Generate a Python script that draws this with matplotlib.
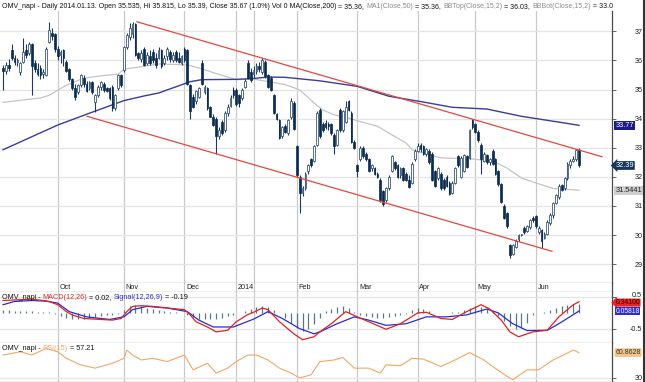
import numpy as np
import matplotlib
matplotlib.use("Agg")
import matplotlib.pyplot as plt
import matplotlib.transforms as mtrans

plt.rcParams['font.family'] = ['Liberation Sans', 'DejaVu Sans']

# daily OHLC, trading-day index 0..200 (early Sep 2013 .. mid Jun 2014)
opens = [35.75, 35.65, 35.85, 36.35, 36.10, 35.95, 35.60, 35.95, 36.35, 36.25,
         36.55, 35.90, 35.70, 35.75, 35.55, 35.50, 36.65, 36.95, 36.90, 36.40,
         36.20, 36.35, 35.95, 35.70, 35.35, 35.05, 34.90, 35.15, 35.40, 35.20,
         35.05, 35.25, 34.58, 34.80, 35.10, 35.20, 35.05, 35.05, 35.10, 34.35,
         35.04, 35.50, 35.67, 36.47, 36.80, 36.90, 37.27, 36.25, 36.05, 36.40,
         35.90, 36.15, 36.30, 36.10, 36.10, 36.35, 35.90, 36.15, 36.30, 36.00,
         36.30, 36.10, 35.90, 36.40, 36.36, 35.16, 34.75, 34.60, 34.75, 35.90,
         34.90, 35.04, 34.41, 34.07, 34.00, 33.40, 33.90, 33.60, 34.20, 34.45,
         35.00, 35.00, 34.80, 34.70, 35.10, 35.90, 35.60, 35.535, 35.65, 35.80,
         35.60, 35.95, 35.50, 35.40, 34.80, 34.15, 33.95, 33.40, 33.75, 33.50,
         34.05, 34.55, 33.05, 32.00, 31.45, 31.60, 32.20, 32.60, 32.55, 33.10,
         34.30, 33.80, 33.85, 33.80, 33.80, 33.45, 33.10, 34.30, 33.60, 33.90,
         34.60, 34.20, 33.20, 32.40, 32.60, 33.00, 32.80, 32.60, 32.30, 32.30,
         32.10, 31.90, 31.50, 31.20, 31.60, 32.20, 32.50, 32.40, 32.05, 32.30,
         32.10, 31.90, 31.80, 32.60, 32.90, 33.10, 33.05, 32.80, 32.90, 32.80,
         32.20, 31.95, 32.10, 31.90, 32.00, 31.80, 31.45, 31.80, 32.70, 32.00,
         32.20, 32.70, 32.65, 33.95, 33.80, 33.55, 33.10, 32.55, 32.75, 32.50,
         32.90, 32.60, 32.20, 31.75, 31.00, 30.75, 29.65, 29.35, 29.60, 29.85,
         30.00, 30.23, 30.15, 30.27, 30.60, 30.65, 30.10, 30.17, 29.90, 30.05,
         30.40, 30.70, 31.10, 31.30, 31.72, 31.60, 31.95, 32.40, 32.55, 32.60,
         32.92]
highs = [35.85, 35.95, 36.05, 36.55, 36.20, 36.10, 35.95, 36.76, 36.55, 36.65,
         36.60, 36.00, 35.90, 35.85, 35.70, 36.45, 37.33, 37.10, 36.95, 36.50,
         36.35, 36.40, 36.00, 35.75, 35.40, 35.20, 35.20, 35.55, 35.50, 35.30,
         35.30, 35.30, 34.85, 35.15, 35.30, 35.25, 35.10, 35.10, 35.15, 34.85,
         35.55, 35.55, 36.50, 36.95, 37.30, 37.33, 37.30, 36.30, 36.35, 36.45,
         36.30, 36.35, 36.40, 36.25, 36.45, 36.40, 36.20, 36.45, 36.35, 36.30,
         36.35, 36.30, 36.20, 36.45, 36.40, 35.20, 34.85, 35.00, 35.10, 36.00,
         35.15, 35.10, 34.45, 34.15, 34.05, 33.70, 33.95, 34.25, 34.50, 34.80,
         35.10, 35.05, 34.85, 35.05, 35.35, 36.00, 35.75, 35.815, 35.90, 35.95,
         36.07, 36.00, 35.55, 35.45, 34.85, 34.20, 34.00, 33.75, 33.80, 34.00,
         34.70, 34.60, 33.10, 32.05, 31.70, 32.15, 32.45, 32.65, 33.10, 34.25,
         34.35, 33.90, 33.95, 33.90, 33.85, 33.50, 33.65, 34.35, 34.30, 34.60,
         34.65, 34.25, 33.25, 32.45, 33.05, 33.05, 32.85, 32.65, 32.45, 32.35,
         32.15, 31.95, 31.55, 31.65, 32.05, 32.75, 32.55, 32.45, 32.35, 32.35,
         32.15, 32.05, 32.50, 32.95, 33.15, 33.15, 33.10, 33.00, 32.95, 32.85,
         32.25, 32.35, 32.15, 31.95, 32.05, 31.85, 31.85, 32.35, 32.75, 32.70,
         32.80, 32.75, 33.65, 34.00, 33.85, 33.60, 33.15, 32.85, 32.80, 32.65,
         32.95, 32.65, 32.25, 31.80, 31.05, 30.80, 29.70, 29.70, 29.85, 30.05,
         30.05, 30.30, 30.35, 30.55, 30.65, 30.70, 30.30, 30.20, 30.10, 30.50,
         30.75, 31.15, 31.40, 31.75, 31.75, 32.00, 32.50, 32.60, 32.70, 32.95,
         33.00]
lows = [35.00, 35.55, 35.65, 36.00, 35.85, 35.80, 35.50, 35.90, 36.10, 36.20,
        34.80, 35.60, 35.45, 35.35, 35.40, 35.45, 36.60, 36.70, 36.30, 36.00,
        35.90, 35.80, 35.60, 35.30, 35.00, 34.65, 34.85, 35.10, 35.10, 34.90,
        35.00, 34.85, 34.24, 34.75, 35.00, 34.90, 34.90, 34.65, 34.25, 34.30,
        35.00, 35.10, 35.60, 36.40, 36.70, 36.76, 36.15, 36.00, 35.95, 35.80,
        35.85, 35.85, 35.90, 35.75, 36.05, 35.75, 35.85, 36.00, 35.95, 35.95,
        35.95, 35.90, 35.85, 35.95, 35.16, 34.00, 34.35, 34.50, 34.70, 35.15,
        34.85, 34.30, 34.05, 33.75, 32.80, 33.30, 33.45, 33.55, 34.10, 34.40,
        34.70, 34.45, 34.40, 34.65, 35.05, 35.35, 35.25, 35.39, 35.55, 35.60,
        35.55, 35.40, 35.05, 34.95, 34.15, 33.95, 33.30, 33.35, 33.50, 33.45,
        34.00, 33.60, 32.00, 30.75, 31.35, 31.55, 32.10, 32.35, 32.50, 33.05,
        33.35, 33.55, 33.65, 33.60, 33.45, 32.80, 33.05, 33.55, 33.55, 33.85,
        34.25, 33.15, 32.95, 32.00, 32.55, 32.65, 32.55, 32.15, 32.20, 32.05,
        31.95, 31.15, 31.00, 31.15, 31.55, 32.15, 32.25, 31.95, 31.95, 31.85,
        31.85, 31.60, 31.75, 32.55, 32.85, 32.85, 32.75, 32.70, 32.45, 31.85,
        31.65, 31.90, 31.55, 31.55, 31.65, 31.37, 31.40, 31.75, 32.35, 31.95,
        32.15, 32.30, 32.60, 33.65, 33.50, 33.20, 32.10, 32.50, 32.45, 32.40,
        32.40, 32.05, 31.70, 31.10, 30.55, 30.25, 29.20, 29.30, 29.55, 29.80,
        29.95, 30.05, 30.10, 30.20, 30.45, 30.25, 30.05, 29.55, 29.85, 30.00,
        30.35, 30.60, 31.05, 31.25, 31.50, 31.55, 31.90, 32.30, 32.50, 32.55,
        32.35]
closes = [35.65, 35.85, 35.75, 36.10, 35.95, 36.00, 35.90, 36.30, 36.20, 36.55,
          35.80, 35.70, 35.55, 35.50, 35.60, 36.40, 37.05, 36.85, 36.40, 36.15,
          36.30, 36.10, 35.65, 35.35, 35.05, 34.75, 35.15, 35.50, 35.20, 34.95,
          35.25, 34.90, 34.80, 35.10, 35.25, 35.00, 34.95, 34.70, 34.35, 34.80,
          35.50, 35.15, 36.47, 36.87, 37.10, 37.27, 36.20, 36.10, 36.25, 35.85,
          36.20, 35.90, 36.00, 35.85, 36.35, 35.80, 36.10, 36.40, 36.05, 36.20,
          36.00, 35.95, 36.15, 36.00, 35.20, 34.25, 34.41, 34.95, 35.05, 35.20,
          35.10, 34.35, 34.07, 33.78, 33.40, 33.60, 33.50, 34.20, 34.40, 34.70,
          34.80, 34.50, 34.55, 35.00, 35.30, 35.40, 35.32, 35.67, 35.80, 35.70,
          36.00, 35.45, 35.10, 35.00, 34.20, 34.00, 33.35, 33.70, 33.55, 33.95,
          34.60, 33.65, 32.05, 31.45, 31.60, 32.10, 32.40, 32.40, 33.05, 34.20,
          33.40, 33.60, 33.70, 33.75, 33.50, 33.05, 33.60, 33.60, 34.25, 34.40,
          34.30, 33.20, 33.00, 32.20, 33.00, 32.70, 32.60, 32.20, 32.40, 32.10,
          32.00, 31.20, 31.05, 31.60, 32.00, 32.70, 32.30, 32.00, 32.30, 31.90,
          31.90, 31.65, 32.45, 32.90, 33.05, 32.95, 32.80, 32.95, 32.50, 31.90,
          31.70, 32.30, 31.60, 31.62, 31.70, 31.40, 31.80, 32.30, 32.40, 32.64,
          32.75, 32.35, 33.60, 33.70, 33.55, 33.25, 32.60, 32.80, 32.50, 32.60,
          32.45, 32.10, 31.75, 31.15, 30.60, 30.30, 29.30, 29.65, 29.80, 30.00,
          30.00, 30.10, 30.30, 30.50, 30.50, 30.30, 30.25, 29.80, 30.05, 30.45,
          30.70, 31.10, 31.37, 31.70, 31.55, 31.95, 32.45, 32.55, 32.60, 32.92,
          32.39]

month_idx = [19, 42, 63, 81, 102, 123, 144, 164, 185]
month_lbl = ['Oct', 'Nov', 'Dec', '2014', 'Feb', 'Mar', 'Apr', 'May', 'Jun']
cursor_idx = 87

# moving averages (index, value)
ma200_x = [0, 19, 29, 42, 49, 54, 65, 69, 81, 87, 92, 98, 110, 123, 134, 146, 156, 168, 180, 195, 200]
ma200_y = [32.93, 33.78, 34.15, 34.62, 34.78, 34.88, 35.27, 35.34, 35.35, 35.38, 35.43, 35.42,
           35.30, 35.11, 34.77, 34.57, 34.39, 34.33, 34.08, 33.85, 33.77]
ma50_x = [0, 13, 16, 22, 28, 34, 40, 42, 49, 54, 64, 68, 75, 81, 87, 98, 103, 108, 111, 115,
          120, 124, 130, 134, 140, 142, 152, 162, 170, 175, 180, 185, 191, 200]
ma50_y = [34.56, 34.71, 34.80, 35.15, 35.39, 35.47, 35.53, 35.70, 35.80, 35.88, 35.85, 35.74,
          35.52, 35.34, 35.36, 35.17, 34.99, 34.54, 34.30, 34.13, 34.02, 33.90, 33.74, 33.50,
          33.16, 32.93, 32.65, 32.62, 32.54, 32.30, 31.96, 31.79, 31.60, 31.54]

# channel lines (index, price)
chan_hi_x = [46.5, 208.0]
chan_hi_y = [37.33, 32.69]
chan_lo_x = [29.2, 190.6]
chan_lo_y = [34.08, 29.44]

# MACD panel
macd_x = [0, 5, 10, 14, 16, 19, 22, 24, 28, 34, 38, 41, 43, 45, 48, 52, 57, 63, 65, 67, 71, 74,
          78, 81, 85, 87, 90, 92, 96, 101, 104, 108, 110, 114, 119, 123, 127, 133, 138, 144, 147,
          152, 156, 161, 166, 169, 173, 176, 179, 184, 189, 193, 198, 200]
macd_y = [0.38, 0.40, 0.42, 0.38, 0.35, 0.25, 0.04, -0.06, -0.17, -0.20, -0.22, -0.17, 0.04,
          0.20, 0.22, 0.20, 0.15, 0.10, -0.06, -0.27, -0.43, -0.58, -0.53, -0.27, -0.05, 0.02,
          0.15, 0.10, -0.27, -0.64, -0.82, -0.73, -0.58, -0.33, 0.04, -0.12, -0.27, -0.50, -0.33,
          0.00, 0.02, -0.17, -0.20, 0.04, 0.25, 0.12, -0.22, -0.58, -0.73, -0.58, -0.53, -0.12,
          0.25, 0.341]
sig_x = [0, 4, 10, 15, 19, 23, 29, 37, 42, 45, 50, 57, 64, 68, 73, 80, 87, 92, 97, 103, 108,
         110, 116, 122, 127, 133, 140, 147, 154, 161, 168, 172, 177, 182, 189, 193, 200]
sig_y = [0.25, 0.35, 0.38, 0.36, 0.30, 0.04, -0.12, -0.20, -0.12, 0.10, 0.20, 0.15, 0.04,
         -0.22, -0.43, -0.43, -0.19, 0.04, -0.17, -0.48, -0.64, -0.58, -0.33, -0.12, -0.22,
         -0.38, -0.33, -0.12, -0.12, -0.06, 0.12, 0.00, -0.33, -0.54, -0.53, -0.33, 0.058]
hist_x = list(range(0, 201, 2))
hist_y = [0.08, 0.08, 0.07, 0.06, 0.05, 0.05, 0.04, 0.04, 0.03,
          -0.02, -0.08, -0.14, -0.18, -0.20, -0.18, -0.15,
          -0.12, -0.10, -0.07, -0.05, -0.02,
          0.10, 0.20, 0.25, 0.22,
          0.15, 0.12, 0.08, 0.05, 0.03, 0.02, 0.01,
          -0.05, -0.12, -0.18, -0.20, -0.20, -0.18, -0.15, -0.10,
          -0.05, 0.00, 0.05,
          0.12, 0.18, 0.20, 0.18, 0.10, 0.00,
          -0.15, -0.30, -0.45, -0.55, -0.50, -0.35, -0.15,
          0.05, 0.12, 0.18, 0.20, 0.15,
          0.02, -0.05, -0.10, -0.12, -0.15, -0.15, -0.12, -0.08, -0.05, -0.02,
          0.08, 0.15, 0.12, 0.05,
          0.01, 0.00, 0.01, 0.02, 0.03,
          0.08, 0.14, 0.20, 0.18, 0.12, 0.05,
          -0.10, -0.25, -0.40, -0.50, -0.45, -0.30,
          -0.05, 0.00, 0.02,
          0.08, 0.14, 0.20, 0.24, 0.26, 0.28]

# RSI panel
rsi_x = [0, 6, 10, 15, 19, 22, 27, 32, 38, 42, 43, 45, 48, 52, 57, 63, 66, 71, 74, 78, 81, 85,
         88, 92, 96, 100, 103, 107, 110, 115, 118, 122, 127, 131, 133, 138, 142, 146, 152, 157,
         162, 167, 170, 175, 177, 182, 186, 191, 194, 198, 200]
rsi_y = [58, 62, 58, 66, 62, 54, 46, 42, 48, 54, 64, 58, 52, 54, 50, 58, 40, 48, 36, 42, 50, 58,
         58, 52, 42, 36, 30, 34, 50, 52, 55, 42, 42, 36, 46, 45, 54, 53, 44, 52, 61, 52, 44, 32,
         28, 40, 40, 52, 57, 64, 61]

W, H = 645, 382
fig = plt.figure(figsize=(W / 100, H / 100), dpi=100)


def px_axes(x0, y0, x1, y1):
    return fig.add_axes([x0 / W, 1 - y1 / H, (x1 - x0) / W, (y1 - y0) / H])


ax = px_axes(0, 11, 611.7, 283)
strip = px_axes(0, 283, 611.7, 292)
axm = px_axes(0, 292, 611.7, 343)
axr = px_axes(0, 343, 611.7, 382)

grid_c = '#c9c9c9'
for a in (ax, strip, axm, axr):
    a.set_xlim(-1.04, 211.35)
    a.set_xticks([])
    for s in ('left', 'top'):
        a.spines[s].set_visible(False)
    a.spines['right'].set_color('#4a4a4a')
    a.spines['right'].set_linewidth(0.9)
    a.spines['bottom'].set_color('#7a7a7a')
    a.spines['bottom'].set_linewidth(0.9)
    for m in month_idx + [cursor_idx]:
        a.axvline(m, color=grid_c, lw=0.9, zorder=0)

# price panel
ax.set_ylim(28.35, 37.70)
ax.yaxis.tick_right()
ax.set_yticks(range(29, 38))
ax.grid(axis='y', color='#e4e4e4', lw=0.9, zorder=0)
idx = np.arange(len(closes))
o = np.array(opens); c = np.array(closes)
up = c >= o
ax.vlines(idx, lows, highs, color='#1d3a5c', lw=0.8, zorder=3)
body_lo = np.minimum(o, c)
body_h = np.maximum(np.abs(c - o), 0.02)
ax.bar(idx[~up], body_h[~up], bottom=body_lo[~up], width=0.62, color='#0c2b50',
       edgecolor='#0c2b50', lw=0.5, zorder=4)
ax.bar(idx[up], body_h[up], bottom=body_lo[up], width=0.62, color='white',
       edgecolor='#3d5a78', lw=0.6, zorder=4)

ax.plot(ma50_x, ma50_y, color='#c4c4c4', lw=0.9, zorder=2)
ax.plot(ma200_x, ma200_y, color='#3b3b99', lw=1.0, zorder=2)
ax.plot(chan_hi_x, chan_hi_y, color='#e5473d', lw=0.9, zorder=5)
ax.plot(chan_lo_x, chan_lo_y, color='#e5473d', lw=0.9, zorder=5)

tick_kw = dict(direction='out', length=3, width=0.6, color='#4a4a4a', labelsize=5.2,
               pad=19.5, labelcolor='#222222')
ax.tick_params(axis='y', **tick_kw)
for lab in ax.get_yticklabels():
    lab.set_ha('right')

# month strip
strip.set_ylim(0, 1)
strip.set_yticks([])
for m, lbl in zip(month_idx, month_lbl):
    strip.text(m + 0.6, 0.45, lbl, fontsize=5.2, va='center', ha='left', color='#222222')

# MACD panel
axm.set_ylim(-0.92, 0.64)
axm.yaxis.tick_right()
axm.set_yticks([0.5, -0.5])
axm.grid(axis='y', color='#e4e4e4', lw=0.9, zorder=0)
axm.tick_params(axis='y', direction='out', length=3, width=0.6, color='#4a4a4a',
                labelright=False)
axm.vlines(hist_x, 0, hist_y, color='#56788a', lw=0.9, zorder=2)
axm.plot(sig_x, sig_y, color='#2b2bd0', lw=0.9, zorder=3)
axm.plot(macd_x, macd_y, color='#de2222', lw=0.9, zorder=3)
fig.text(642 / W, 1 - 295.2 / H, '0.5', fontsize=5.2, ha='right', va='center', color='#222222')
fig.text(642 / W, 1 - 329.3 / H, '-0.5', fontsize=5.2, ha='right', va='center', color='#222222')

# RSI panel
axr.set_ylim(25.1, 72.7)
axr.yaxis.tick_right()
axr.set_yticks([30])
axr.grid(axis='y', color='#e4e4e4', lw=0.9, zorder=0)
axr.tick_params(axis='y', **tick_kw)
for lab in axr.get_yticklabels():
    lab.set_ha('right')
axr.plot(rsi_x, rsi_y, color='#f2a766', lw=0.8, zorder=3)


# value tags at the right edge
def tag(a, val, txt, fc, tc, style='square,pad=0.12', dy=0.0, size=5.3):
    tr = mtrans.blended_transform_factory(a.transAxes, a.transData)
    tr = tr + mtrans.ScaledTranslation(0, dy / 72, fig.dpi_scale_trans)
    a.text(1.006, val, txt, transform=tr, fontsize=size, color=tc, va='center', ha='left',
           clip_on=False, zorder=10,
           bbox=dict(boxstyle=style, fc=fc, ec='none'))


tag(ax, ma200_y[-1], '33.77', '#1c1c86', 'white')
tag(ax, closes[-1], '32.39', '#15365a', 'white', 'larrow,pad=0.12')
tag(ax, ma50_y[-1], '31.5441', '#cfcfcf', '#222222')
tag(axm, macd_y[-1], '0.34100', '#e52424', '#3a0000', 'larrow,pad=0.08', dy=-0.6, size=4.9)
tag(axm, sig_y[-1], '0.05818', '#2b2bdc', 'white', 'square,pad=0.08', size=4.9)
tag(axr, rsi_y[-1], '60.8628', '#f6c488', '#333333', 'round,pad=0.12', size=5.0)

# multi-coloured header lines
renderer = fig.canvas.get_renderer()


def text_w(s, size):
    t = fig.text(0, 0, s + '|', fontsize=size)
    t2 = fig.text(0, 0, '|', fontsize=size)
    w = t.get_window_extent(renderer).width - t2.get_window_extent(renderer).width
    t.remove(); t2.remove()
    return w


def rich(x_px, y_px, parts, size):
    done = ''
    for s, col in parts:
        x = x_px + text_w(done, size) if done else x_px
        fig.text(x / W, 1 - y_px / H, s, color=col, fontsize=size, va='center', ha='left',
                 zorder=20)
        done += s


blk = '#111111'
gry = '#8c8c8c'
rich(2, 6.5, [('OMV_napi - Daily 2014.01.13. Open 35.535, Hi 35.815, Lo 35.39, Close 35.67 (1.0%) '
               'Vol 0 MA(Close,200)', blk), (' = 35.36, ', blk), ('MA1(Close,50)', gry),
              (' = 35.36, ', blk), ('BBTop(Close,15,2)', gry), (' = 36.03, ', blk),
              ('BBBot(Close,15,2)', gry), (' = 33.0', blk)], 5.0)
rich(2, 297.5, [('OMV_napi - ', blk), ('MACD(12,26)', '#de2222'), (' = 0.02, ', blk),
                ('Signal(12,26,9)', '#2b2bd0'), (' = -0.19', blk)], 5.2)
rich(2, 348, [('OMV_napi - ', blk), ('RSI(15)', '#f2a766'), (' = 57.21', blk)], 5.2)

# right border
fig.add_artist(plt.Line2D([643.5 / W, 643.5 / W], [0, 1], color='#333333', lw=1.5))

fig.savefig('out.png', dpi=100)
